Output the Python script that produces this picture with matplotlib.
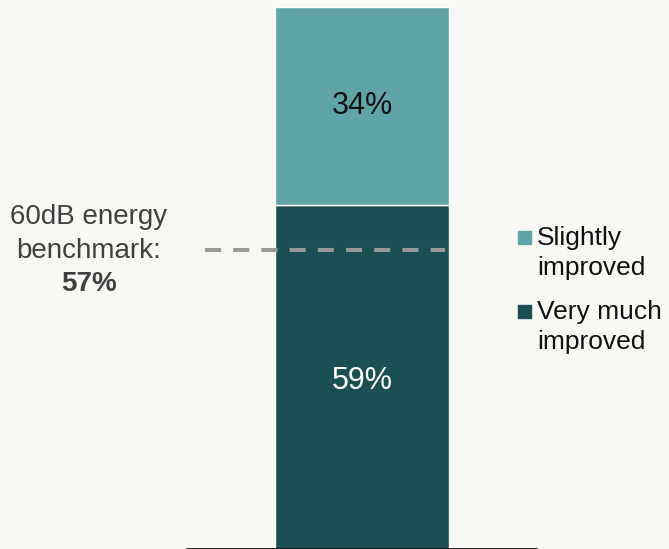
import matplotlib
matplotlib.use("Agg")
import matplotlib.pyplot as plt
from matplotlib.patches import Rectangle

# Data
series = ["Very much\nimproved", "Slightly\nimproved"]
values = [59, 34]
colors = ["#1b4f53", "#5fa5a8"]
label_colors = ["white", "#111111"]
benchmark_text = ["60dB energy", "benchmark:"]
benchmark_value = "57%"
benchmark_line = 51.2   # where the dashed line sits on the bar scale

W, H = 669, 549
plt.rcParams["font.family"] = ["Liberation Sans", "DejaVu Sans"]

fig = plt.figure(figsize=(W / 100, H / 100), dpi=100)
fig.patch.set_facecolor("#f8f8f4")


def fx(px):
    return px / W


def fy(py):
    return 1 - py / H


ax = fig.add_axes([fx(187), fy(548.5), fx(350), 548.5 / H])
ax.set_facecolor("none")

bottom = 0
for v, c, tc in zip(values, colors, label_colors):
    ax.bar(0, v, bottom=bottom, width=0.99, color=c, edgecolor="white", linewidth=1)
    ax.text(0, bottom + v / 2 - (0.8 if v == values[0] else 0), f"{v}%", ha="center", va="center",
            fontsize=22, color=tc)
    bottom += v

ax.set_xlim(-1, 1)
ax.set_ylim(0, 548.5 / 5.825)

# benchmark dashed line
ax.axhline(benchmark_line, xmin=(205 - 187) / 350, xmax=(445 - 187) / 350,
           color="#999999", lw=2.9, dashes=(4, 3), solid_capstyle="butt",
           dash_capstyle="butt")

for s in ["top", "left", "right"]:
    ax.spines[s].set_visible(False)
ax.spines["bottom"].set_color("black")
ax.spines["bottom"].set_linewidth(1.2)
ax.set_xticks([])
ax.set_yticks([])

# benchmark label on the left
fig.text(fx(89), fy(223.5), benchmark_text[0], ha="center", va="baseline",
         fontsize=20, color="#404040")
fig.text(fx(89), fy(258.5), benchmark_text[1], ha="center", va="baseline",
         fontsize=20, color="#404040")
fig.text(fx(89), fy(291), benchmark_value, ha="center", va="baseline",
         fontsize=20, color="#404040", fontweight="bold")

# legend (drawn by hand, top entry first)
legend_y = [245, 319]
for name, c, y in zip(series[::-1], colors[::-1], legend_y):
    fig.patches.append(Rectangle((fx(517.5), fy(y - 1)), 13 / W, 13 / H,
                                 transform=fig.transFigure, color=c))
    lines = name.split("\n")
    for i, line in enumerate(lines):
        fig.text(fx(537), fy(y + 30 * i), line, ha="left", va="baseline",
                 fontsize=19, color="#111111")

plt.savefig("out.png", dpi=100, facecolor=fig.get_facecolor())
plt.close()
